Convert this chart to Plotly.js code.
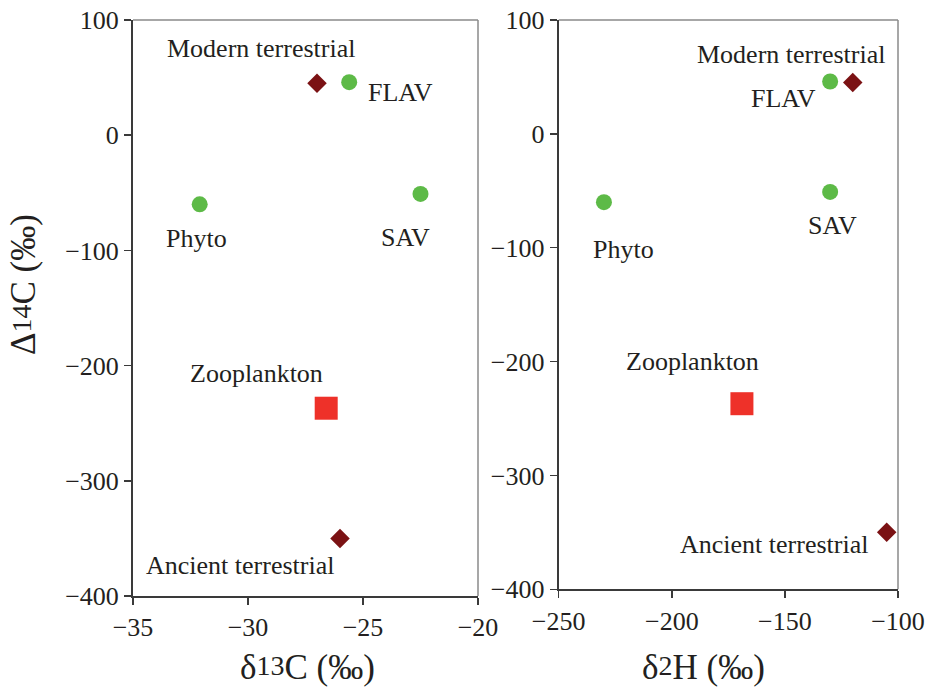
<!DOCTYPE html>
<html>
<head>
<meta charset="utf-8">
<script src="https://cdn.plot.ly/plotly-3.0.1.min.js"></script>
<style>
  html, body { margin: 0; padding: 0; background: #ffffff; }
  #chart { width: 928px; height: 687px; }
</style>
</head>
<body>
<div id="chart"></div>
<script>
// Organic matter sources: radiocarbon vs. stable carbon and hydrogen isotopes
const sources = ['Modern terrestrial', 'FLAV', 'SAV', 'Phyto', 'Zooplankton', 'Ancient terrestrial'];
const kinds   = ['terrestrial', 'plant', 'plant', 'plant', 'consumer', 'terrestrial'];
const d14C    = [45, 46, -51, -60, -237, -350];          // Δ14C (‰)
const d13C    = [-27.0, -25.6, -22.5, -32.1, -26.6, -26.0]; // δ13C (‰)
const d2H     = [-120, -130, -130, -230, -169, -105];    // δ2H (‰)

const xTicksC = [-35, -30, -25, -20];
const xTicksH = [-250, -200, -150, -100];
const yTicks  = [100, 0, -100, -200, -300, -400];

// Marker look per source kind
const kindStyle = {
  terrestrial: { symbol: 'diamond', size: 15, color: '#7b1214' },
  plant:       { symbol: 'circle',  size: 16, color: '#5dba47' },
  consumer:    { symbol: 'square',  size: 23, color: '#ee3129' }
};

// Label offsets from each marker (pixels), per panel
const labelShiftC = {
  'Modern terrestrial':  [-56, 35],
  'FLAV':                [51, -10],
  'SAV':                 [-15, -44],
  'Phyto':               [-3, -34],
  'Zooplankton':         [-70, 35],
  'Ancient terrestrial': [-100, -27]
};
const labelShiftH = {
  'Modern terrestrial':  [-62, 28],
  'FLAV':                [-47, -17],
  'SAV':                 [2, -34],
  'Phyto':               [20, -47],
  'Zooplankton':         [-49, 42],
  'Ancient terrestrial': [-113, -12]
};

const serif = '"Liberation Serif", "Times New Roman", serif';
const ink = '#231f20';
const axisInk = '#3a3a3a';

function markerArrays() {
  return {
    symbol: kinds.map(k => kindStyle[k].symbol),
    size:   kinds.map(k => kindStyle[k].size),
    color:  kinds.map(k => kindStyle[k].color),
    opacity: 1,
    line: { width: 0 }
  };
}

const traces = [
  { type: 'scatter', mode: 'markers', x: d13C, y: d14C, xaxis: 'x', yaxis: 'y',
    marker: markerArrays(), hoverinfo: 'skip', cliponaxis: false },
  { type: 'scatter', mode: 'markers', x: d2H, y: d14C, xaxis: 'x2', yaxis: 'y2',
    marker: markerArrays(), hoverinfo: 'skip', cliponaxis: false }
];

function axisBase(extra) {
  return Object.assign({
    showgrid: false, zeroline: false,
    showline: true, linecolor: axisInk, linewidth: 2,
    ticks: 'outside', ticklen: 7, tickwidth: 1.5, tickcolor: axisInk,
    tickfont: { family: serif, size: 26, color: ink },
    automargin: false, fixedrange: true
  }, extra);
}

const annotations = [];
function addLabels(xs, xref, yref, shifts) {
  sources.forEach((name, i) => {
    annotations.push({
      x: xs[i], y: d14C[i], xref: xref, yref: yref,
      text: name, showarrow: false,
      xanchor: 'center', yanchor: 'middle',
      xshift: shifts[name][0], yshift: shifts[name][1],
      font: { family: serif, size: 26, color: ink }
    });
  });
}
addLabels(d13C, 'x', 'y', labelShiftC);
addLabels(d2H, 'x2', 'y2', labelShiftH);

const titleFont = { family: serif, size: 35, color: ink };
const supStyle = 'font-size:28px;baseline-shift:4px';
annotations.push(
  { xref: 'paper', yref: 'paper', x: 0.3314, y: 0.029, xanchor: 'center', yanchor: 'middle',
    showarrow: false, font: titleFont,
    text: 'δ<span style="' + supStyle + '">13</span>C (‰)' },
  { xref: 'paper', yref: 'paper', x: 0.7581, y: 0.029, xanchor: 'center', yanchor: 'middle',
    showarrow: false, font: titleFont,
    text: 'δ<span style="' + supStyle + '">2</span>H (‰)' },
  { xref: 'paper', yref: 'paper', x: 0.0248, y: 0.585, xanchor: 'center', yanchor: 'middle',
    showarrow: false, font: titleFont, textangle: -90,
    text: 'Δ<span style="' + supStyle + '">14</span>C (‰)' }
);

// Light frame on the top and right of each panel
const frameLine = { color: '#8a8a8a', width: 1.5 };
const shapes = [];
[['x', 'y'], ['x2', 'y2']].forEach(([xa, ya]) => {
  shapes.push(
    { type: 'line', xref: xa + ' domain', yref: ya + ' domain', x0: 0, x1: 1, y0: 1, y1: 1, line: frameLine, layer: 'below' },
    { type: 'line', xref: xa + ' domain', yref: ya + ' domain', x0: 1, x1: 1, y0: 0, y1: 1, line: frameLine, layer: 'below' }
  );
});

const layout = {
  width: 928, height: 687,
  margin: { l: 0, r: 0, t: 0, b: 0, pad: 0 },
  paper_bgcolor: '#ffffff', plot_bgcolor: '#ffffff',
  showlegend: false,
  xaxis:  axisBase({ domain: [133 / 928, 478 / 928], range: [-35, -20], tickvals: xTicksC, anchor: 'y' }),
  yaxis:  axisBase({ domain: [91 / 687, 667 / 687], range: [-400, 100], tickvals: yTicks, anchor: 'x' }),
  xaxis2: axisBase({ domain: [558.7 / 928, 898 / 928], range: [-250, -100], tickvals: xTicksH, anchor: 'y2' }),
  yaxis2: axisBase({ domain: [97.7 / 687, 667 / 687], range: [-400, 100], tickvals: yTicks, anchor: 'x2' }),
  annotations: annotations,
  shapes: shapes
};

Plotly.newPlot('chart', traces, layout, { displayModeBar: false, staticPlot: true });
</script>
</body>
</html>
